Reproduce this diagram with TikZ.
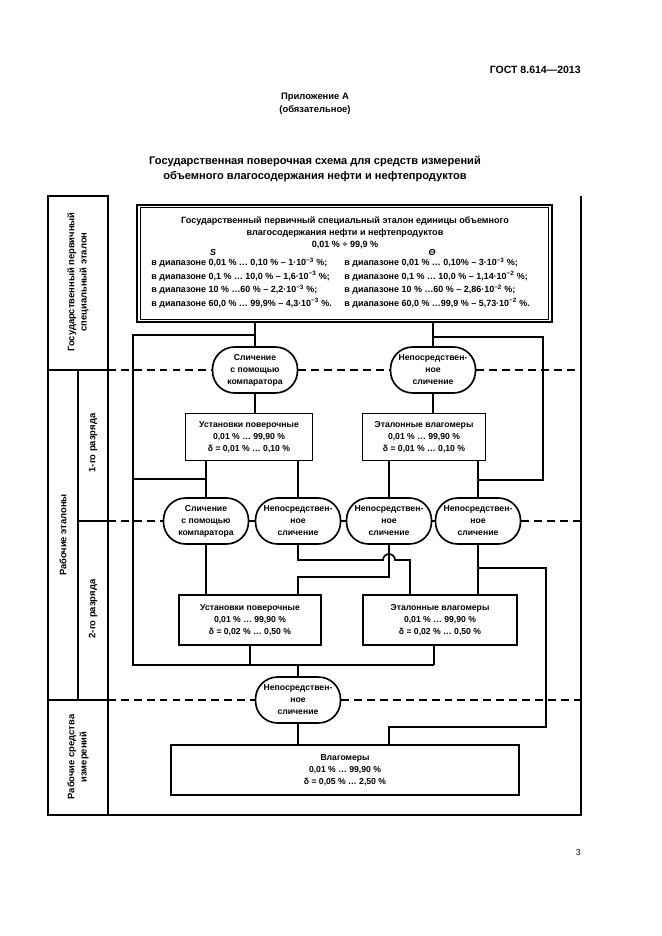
\documentclass[tikz,border=0pt]{standalone}
\usepackage{fontspec}
\setmainfont{Liberation Sans}
\usetikzlibrary{positioning,calc}

\begin{document}
\begin{tikzpicture}[x=0.3177mm, y=-0.3177mm,
    every node/.style={align=center, inner sep=1pt, font=\bfseries\fontsize{7.8}{10.8}\selectfont},
    line/.style={line width=1.5pt},
    sep/.style={line width=1.5pt, dash pattern=on 2.5mm off 1.6mm},
    box/.style={draw, line width=1.5pt, rectangle, minimum height=14.9mm},
    oval/.style={draw, line width=1.5pt, rectangle, rounded corners=7mm, minimum width=27mm, minimum height=14.6mm},
    vlabel/.style={rotate=90, font=\bfseries\fontsize{8.5}{11}\selectfont}]
    \useasboundingbox (0,0) rectangle (661,936);

    % page head
    \node[anchor=east, font=\bfseries\fontsize{9.5}{11}\selectfont] (gost) at (582,70) {ГОСТ 8.614—2013};
    \node[font=\bfseries\fontsize{8.5}{11.7}\selectfont] (app) at (315,104) {Приложение А\\(обязательное)};
    \node[font=\bfseries\fontsize{10}{12.8}\selectfont] (title) at (315,169) {Государственная поверочная схема для средств измерений\\объемного влагосодержания нефти и нефтепродуктов};
    \node[anchor=east, font=\fontsize{8}{10}\selectfont] (pg) at (582,852) {3};

    % frame and left column
    \draw[line] (48,196) rectangle (108,815);
    \draw[line] (108,815) -- (581,815) -- (581,196);
    \draw[line] (48,370) -- (108,370);
    \draw[line] (78,370) -- (78,700);
    \draw[line] (78,521) -- (108,521);
    \draw[line] (48,700) -- (108,700);
    \node[vlabel] (l1) at (78,282) {Государственный первичный\\специальный эталон};
    \node[vlabel] (l2) at (63,535) {Рабочие эталоны};
    \node[vlabel] (l3) at (93,443) {1-го разряда};
    \node[vlabel] (l4) at (93,609) {2-го разряда};
    \node[vlabel] (l5) at (78,757) {Рабочие средства\\измерений};

    % primary standard
    \node[box, line width=1.8pt, minimum width=131.8mm, minimum height=37.2mm] (gpe) at (344.5,263.5) {};
    \draw[line width=0.9pt] ([shift={(4,4)}]gpe.north west) rectangle ([shift={(-4,-4)}]gpe.south east);
    \node[font=\bfseries\fontsize{8.2}{10.8}\selectfont] (gpehead) at (345,233) {Государственный первичный специальный эталон единицы объемного\\влагосодержания нефти и нефтепродуктов\\0,01 \% ÷ 99,9 \%};
    \node[font=\bfseries\itshape\fontsize{8}{10}\selectfont] (sS) at (213,252) {S};
    \node[font=\bfseries\itshape\fontsize{8}{10}\selectfont] (sT) at (432,252) {Θ};
    \node[anchor=west, align=left, font=\bfseries\fontsize{8.1}{12.2}\selectfont] (rowS) at (150,283)
        {в диапазоне 0,01 \% … 0,10 \% – 1·10\textsuperscript{−3} \%;\\
         в диапазоне 0,1 \% … 10,0 \% – 1,6·10\textsuperscript{−3} \%;\\
         в диапазоне 10 \% …60 \% – 2,2·10\textsuperscript{−3} \%;\\
         в диапазоне 60,0 \% … 99,9\% – 4,3·10\textsuperscript{−3} \%.};
    \node[anchor=west, align=left, font=\bfseries\fontsize{8.1}{12.2}\selectfont] (rowT) at (343,283)
        {в диапазоне 0,01 \% … 0,10\% – 3·10\textsuperscript{−3} \%;\\
         в диапазоне 0,1 \% … 10,0 \% – 1,14·10\textsuperscript{−2} \%;\\
         в диапазоне 10 \% …60 \% – 2,86·10\textsuperscript{−2} \%;\\
         в диапазоне 60,0 \% …99,9 \% – 5,73·10\textsuperscript{−2} \%.};

    % 1st grade
    \node[oval] (cmp1) at (255,370) {Сличение\\с помощью\\компаратора};
    \node[oval] (dir1) at (433,370) {Непосредствен-\\ное\\сличение};
    \node[box, minimum width=40.3mm] (ust1) at (249,437) {Установки поверочные\\0,01 \% … 99,90 \%\\δ = 0,01 \% … 0,10 \%};
    \node[box, minimum width=39.1mm] (etl1) at (424,437) {Эталонные влагомеры\\0,01 \% … 99,90 \%\\δ = 0,01 \% … 0,10 \%};

    % 2nd grade
    \node[oval] (cmp2) at (206,521) {Сличение\\с помощью\\компаратора};
    \node[oval] (dir2) at (298,521) {Непосредствен-\\ное\\сличение};
    \node[oval] (dir3) at (389,521) {Непосредствен-\\ное\\сличение};
    \node[oval] (dir4) at (478,521) {Непосредствен-\\ное\\сличение};
    \node[box, minimum width=45.1mm, minimum height=15.9mm] (ust2) at (250,620) {Установки поверочные\\0,01 \% … 99,90 \%\\δ = 0,02 \% … 0,50 \%};
    \node[box, minimum width=48.9mm, minimum height=15.9mm] (etl2) at (440,620) {Эталонные влагомеры\\0,01 \% … 99,90 \%\\δ = 0,02 \% … 0,50 \%};

    % working instruments
    \node[oval] (dir5) at (298,700) {Непосредствен-\\ное\\сличение};
    \node[box, minimum width=110.6mm, minimum height=15.9mm] (vlag) at (345,770) {Влагомеры\\0,01 \% … 99,90 \%\\δ = 0,05 \% … 2,50 \%};

    % bends
    \coordinate (lt) at (133,335);
    \coordinate (lm) at (133,479);
    \coordinate (lb) at (133,665);
    \coordinate (rt) at (543,337);
    \coordinate (rm) at (543,480);
    \coordinate (rb) at (546,568);
    \coordinate (rv) at (546,727);
    \coordinate (xh) at (0,560);
    \coordinate (xl) at (0,577);
    \coordinate (e2t) at (410,560);
    \coordinate (e2b) at (434,665);

    % separators
    \draw[sep] (108,370) -- (cmp1.west);
    \draw[sep] (cmp1.east) -- (dir1.west);
    \draw[sep] (dir1.east) -- (581,370);
    \draw[sep] (108,521) -- (cmp2.west);
    \draw[line] (cmp2.east) -- (dir2.west);
    \draw[line] (dir2.east) -- (dir3.west);
    \draw[line] (dir3.east) -- (dir4.west);
    \draw[sep] (dir4.east) -- (581,521);
    \draw[sep] (108,700) -- (dir5.west);
    \draw[sep] (dir5.east) -- (581,700);

    % links
    \draw[line] (gpe.south -| cmp1) -- (cmp1);
    \draw[line] (gpe.south -| dir1) -- (dir1);
    \draw[line] (cmp1 |- lt) -- (lt) -- (lb) -- (e2b);
    \draw[line] (dir1 |- rt) -- (rt) -- (rm) -- (rm -| dir4);
    \draw[line] (cmp1) -- (cmp1 |- ust1.north);
    \draw[line] (dir1) -- (dir1 |- etl1.north);
    \draw[line] (ust1.south -| cmp2) -- (cmp2);
    \draw[line] (ust1.south -| dir2) -- (dir2);
    \draw[line] (lm) -- (lm -| cmp2);
    \draw[line] (etl1.south -| dir3) -- (dir3);
    \draw[line] (etl1.south -| dir4) -- (dir4);
    \draw[line] (cmp2) -- (cmp2 |- ust2.north);
    \draw[line] (dir2) -- (dir2 |- xh) -- ($(dir3 |- xh)+(-6,0)$) arc[start angle=180, end angle=360, radius=6] -- (e2t) -- (e2t |- etl2.north);
    \draw[line] (dir3) -- (dir3 |- xl) -- (xl -| dir2) -- (dir2 |- ust2.north);
    \draw[line] (dir4) -- (dir4 |- etl2.north);
    \draw[line] (rb -| dir4) -- (rb) -- (rv) -- (rv -| dir3) -- (dir3 |- vlag.north);
    \draw[line] (ust2.south) -- (ust2.south |- lb);
    \draw[line] (e2b |- etl2.south) -- (e2b);
    \draw[line] (dir5 |- lb) -- (dir5);
    \draw[line] (dir5) -- (dir5 |- vlag.north);
\end{tikzpicture}
\end{document}
